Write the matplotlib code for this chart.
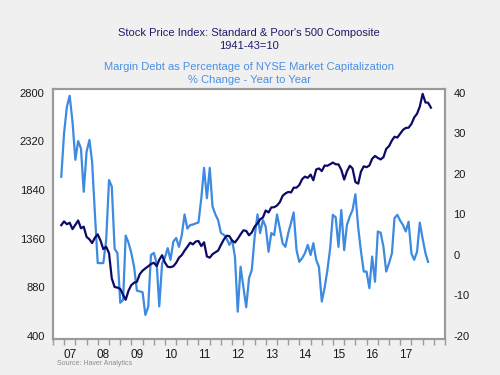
import matplotlib as mpl
mpl.use('Agg')
import matplotlib.pyplot as plt
import matplotlib.dates as mdates
import numpy as np
import pandas as pd

plt.rcParams['font.family'] = ['Liberation Sans', 'DejaVu Sans']
plt.rcParams['axes.unicode_minus'] = False

# S&P 500, monthly, Apr 2007 - Apr 2018 (left axis)
sp500 = [1494, 1531, 1503, 1518, 1455, 1497, 1540, 1463, 1479,
         1378, 1354, 1317, 1371, 1403, 1341, 1257, 1281, 1217, 968, 883, 878,
         865, 806, 757, 848, 902, 926, 935, 1010, 1045, 1067, 1088, 1110,
         1123, 1090, 1152, 1197, 1125, 1083, 1079, 1088, 1122, 1172, 1199, 1242,
         1282, 1321, 1304, 1332, 1338, 1287, 1325, 1185, 1173, 1207, 1226, 1243,
         1300, 1352, 1389, 1386, 1341, 1323, 1359, 1403, 1443, 1437, 1394, 1422,
         1480, 1512, 1551, 1570, 1639, 1619, 1669, 1671, 1688, 1720, 1783, 1807,
         1822, 1817, 1864, 1864, 1890, 1948, 1973, 1961, 1993, 1937, 2044, 2054,
         2028, 2083, 2080, 2095, 2112, 2095, 2094, 2040, 1944, 2025, 2080, 2054,
         1919, 1904, 2022, 2075, 2066, 2083, 2149, 2177, 2158, 2143, 2165, 2247,
         2275, 2330, 2367, 2359, 2395, 2434, 2454, 2456, 2493, 2557, 2594, 2664,
         2790, 2705, 2703, 2654]

# Margin debt / NYSE market cap, % change yoy, Apr 2007 - Mar 2018 (right axis)
margin = [19.3, 30, 36.6, 39.3, 32.9, 23.5, 28.1, 26.3, 15.6, 25.5, 28.4, 23.0,
          10, -2, -2, -2, 3.7, 18.5, 16.9, 1.5, 0.5, -11.8, -11.1, 4.8,
          3.0, 0.5, -3.0, -8.8, -9.0, -9.2, -14.8, -12.8, 0, 0.5, -2, -12.7,
          -2, -0.7, 1.7, -1.2, 3.3, 4.2, 2.0, 4.9, 10, 6.5, 7.4, 7.5,
          7.8, 8, 14, 21.5, 14, 21.5, 12, 10, 8.6, 5.4, 5, 4.1,
          2.5, 3.7, -0.5, -14, -2.9, -8, -12.9, -5.7, -3.7, 4.5, 10, 5.4,
          8.6, 7, 0.8, 5.4, 4.9, 10, 6.6, 2.9, 2.0, 5.4, 8, 10.5,
          1.2, -1.7, -0.8, 0.4, 2.5, 0, 2.9, -1.2, -3.0, -11.5, -8, -4,
          1.5, 9.9, 9.3, 2.0, 11.1, 1.2, 7.4, 9.5, 11.1, 15.0, 6.7, 1,
          -4.1, -4.1, -8.2, -0.4, -6.6, 5.8, 5.5, 2.0, -4.1, -2, 0.4, 9.1,
          9.9, 8.5, 7.4, 5.8, 8.2, 0.4, -1.2, 0.8, 8.0, 4, 0.4, -1.7]

dates_sp = pd.date_range('2007-04-01', periods=len(sp500), freq='MS')
dates_mg = pd.date_range('2007-04-01', periods=len(margin), freq='MS')

years = list(range(2007, 2018))
year_labels = ['07', '08', '09', '10', '11', '12', '13', '14', '15', '16', '17']

fig = plt.figure(figsize=(5, 3.75), dpi=100, facecolor='#f0f0f0')
ax2 = fig.add_axes([0.106, 0.096, 0.784, 0.667])
ax = ax2.twinx()
ax.yaxis.tick_left()
ax2.yaxis.tick_right()
ax.set_zorder(ax2.get_zorder() + 1)
ax.patch.set_visible(False)
ax2.set_facecolor('white')

ax2.plot(dates_mg, margin, color='#3d8ae0', lw=1.6)
ax.plot(dates_sp, sp500, color='#0b0b66', lw=1.6)

ax.set_ylim(370, 2839.5)
ax.set_yticks([400, 880, 1360, 1840, 2320, 2800])
ax2.set_ylim(-20.74, 41.0)
ax2.set_yticks([-20, -10, 0, 10, 20, 30, 40])

ax2.set_xlim(pd.Timestamp('2007-04-01'), pd.Timestamp('2018-05-18'))

# tick marks at Jan, May, Sep; year labels centred mid-year
tick_dates = [pd.Timestamp(y, mth, 1) for y in range(2007, 2019) for mth in (1, 5, 9)]
ax2.set_xticks(tick_dates)
ax2.set_xticklabels([])
ax2.set_xticks([pd.Timestamp(y, 7, 1) for y in years], minor=True)
ax2.set_xticklabels(year_labels, minor=True)
ax2.tick_params(axis='x', which='major', length=4, width=1, color='#9a9a9a', direction='out')
ax2.tick_params(axis='x', which='minor', length=0, pad=7, labelsize=8.5, labelcolor='#1a1a1a')

ax.tick_params(axis='y', length=0, pad=6, labelsize=8, labelcolor='#1a1a1a')
ax2.tick_params(axis='y', length=0, pad=6, labelsize=8, labelcolor='#1a1a1a')
ax.tick_params(axis='x', which='both', length=0, labelbottom=False)

for a in (ax, ax2):
    for s in a.spines.values():
        s.set_color('#9a9a9a')
        s.set_linewidth(1.5)

fig.text(0.498, 0.913, "Stock Price Index: Standard & Poor's 500 Composite",
         ha='center', va='center', fontsize=8, color='#1c1c6c')
fig.text(0.498, 0.878, '1941-43=10', ha='center', va='center', fontsize=8, color='#1c1c6c')
fig.text(0.498, 0.822, 'Margin Debt as Percentage of NYSE Market Capitalization',
         ha='center', va='center', fontsize=8, color='#4a90e2')
fig.text(0.498, 0.787, '% Change - Year to Year', ha='center', va='center',
         fontsize=8, color='#4a90e2')
fig.text(0.114, 0.03, 'Source: Haver Analytics', ha='left', va='center',
         fontsize=5, color='#8a8a8a')

fig.savefig('out.png', dpi=100, facecolor=fig.get_facecolor())
